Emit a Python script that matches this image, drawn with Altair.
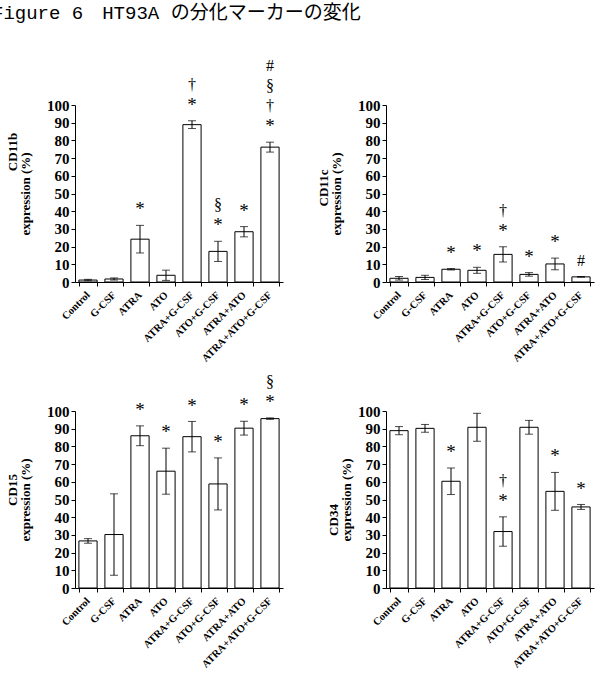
import altair as alt
import pandas as pd

# Treatment groups (x axis, same order in every panel)
groups = ["Control", "G-CSF", "ATRA", "ATO", "ATRA+G-CSF", "ATO+G-CSF",
          "ATRA+ATO", "ATRA+ATO+G-CSF"]

# Mean expression (%) and SD per marker; significance symbols listed bottom-to-top
cd11b_mean = [1.1, 1.7, 24.2, 3.8, 88.9, 17.3, 28.4, 76.2]
cd11b_sd = [0.4, 0.6, 7.8, 2.9, 2.2, 5.7, 2.9, 2.8]
cd11b_sig = ["", "", "*", "", "*†", "*§", "*", "*†§#"]

cd11c_mean = [2.1, 2.6, 7.2, 6.6, 15.6, 4.3, 10.2, 2.9]
cd11c_sd = [1.0, 1.2, 0.4, 1.7, 4.3, 1.0, 3.3, 0.2]
cd11c_sig = ["", "", "*", "*", "*†", "*", "*", "#"]

cd15_mean = [26.6, 30.2, 86.0, 66.0, 85.5, 58.8, 90.3, 95.7]
cd15_sd = [1.3, 23.0, 5.6, 13.0, 8.6, 14.7, 3.9, 0.4]
cd15_sig = ["", "", "*", "*", "*", "*", "*", "*§"]

cd34_mean = [88.9, 90.2, 60.3, 90.8, 31.9, 90.8, 54.6, 45.8]
cd34_sd = [2.3, 2.2, 7.5, 7.9, 8.3, 3.9, 10.7, 1.4]
cd34_sig = ["", "", "*", "", "*†", "", "*", "*"]

y_ticks = list(range(0, 101, 10))

FIG_TITLE = "Figure 6\u3000HT93A の分化マーカーの変化"

SERIF = "Liberation Serif"
W, H = 208, 177
GAP = 9.0    # % units from top of the error bar to the first symbol
STEP = 11.3  # % units between stacked symbols


def panel(marker, means, sds, sigs, name_xy, title_pad, with_fig_title=False):
    df = pd.DataFrame({"group": groups, "mean": means, "sd": sds})
    df["lo"] = df["mean"] - df["sd"]
    df["hi"] = df["mean"] + df["sd"]

    rows = []
    for g, m, s, sig in zip(groups, means, sds, sigs):
        for k, ch in enumerate(sig):
            rows.append({"group": g, "sym": ch, "pos": m + s + GAP + k * STEP})
    sig_df = pd.DataFrame(rows, columns=["group", "sym", "pos"])

    xaxis = alt.Axis(title=None, labelAngle=-45, labelAlign="right",
                     labelBaseline="middle", labelFontSize=10.5,
                     labelPadding=7, tickBand="extent", tickSize=4,
                     labelOverlap=False)
    yaxis = alt.Axis(values=y_ticks, title="expression (%)",
                     labelFontSize=15, tickSize=4, labelPadding=2,
                     labelOverlap=False, labelFlush=False,
                     titleFontSize=13, titlePadding=title_pad)
    xscale = alt.Scale(paddingInner=0.3, paddingOuter=0.15)
    yscale = alt.Scale(domain=[0, 100], nice=False)

    def X():
        return alt.X("group:N", sort=groups, scale=xscale, axis=xaxis)

    def Y(field):
        return alt.Y(field, type="quantitative", scale=yscale, axis=yaxis)

    base = alt.Chart(df)
    bars = base.mark_bar(fill="white", stroke="black", strokeWidth=1).encode(
        x=X(), y=Y("mean"))
    whisk = base.mark_rule(color="black", strokeWidth=1).encode(
        x=X(), y=Y("lo"), y2="hi:Q")
    cap_lo = base.mark_tick(color="black", size=8, thickness=1).encode(
        x=X(), y=Y("lo"))
    cap_hi = base.mark_tick(color="black", size=8, thickness=1).encode(
        x=X(), y=Y("hi"))

    symbols = alt.Chart(sig_df).mark_text(font=SERIF, baseline="middle", color="black").encode(
        x=X(),
        y=Y("pos"),
        text="sym:N",
        size=alt.condition("datum.sym == '*'", alt.value(19), alt.value(16)),
    )

    name = alt.Chart(pd.DataFrame({"t": [marker]})).mark_text(
        font=SERIF, fontSize=13, fontWeight="bold", angle=270,
        baseline="middle", align="center", color="black",
    ).encode(x=alt.value(name_xy[0]), y=alt.value(name_xy[1]), text="t:N")

    layers = [bars, whisk, cap_lo, cap_hi, symbols, name]
    if with_fig_title:
        fig_title = alt.Chart(pd.DataFrame({"t": [FIG_TITLE]})).mark_text(
            font="Liberation Mono, Noto Sans CJK JP", fontSize=19, align="left",
            baseline="middle", color="black",
        ).encode(x=alt.value(-83), y=alt.value(-92), text="t:N")
        layers.append(fig_title)

    return alt.layer(*layers).properties(width=W, height=H)


p1 = panel("CD11b", cd11b_mean, cd11b_sd, cd11b_sig, (-62, 47), 14, with_fig_title=True)
p2 = panel("CD11c", cd11c_mean, cd11c_sd, cd11c_sig, (-62, 83), 14)
p3 = panel("CD15", cd15_mean, cd15_sd, cd15_sig, (-62, 79), 14)
p4 = panel("CD34", cd34_mean, cd34_sd, cd34_sig, (-52, 109), 4)

chart = alt.concat(
    p1, p2, p3, p4, columns=2,
    spacing=alt.RowColnumber(row=129, column=103),
    bounds="flush",
).properties(
    padding={"left": -8, "top": 4, "right": 5, "bottom": 5},
).configure_view(
    stroke=None,
).configure_axis(
    labelFont=SERIF, labelFontWeight="bold", labelColor="black",
    titleFont=SERIF, titleFontWeight="bold", titleColor="black",
    domainColor="black", tickColor="black", domainWidth=1, tickWidth=1,
    grid=False,
)

chart.save("out.html", embed_options={"renderer": "svg", "actions": False})
